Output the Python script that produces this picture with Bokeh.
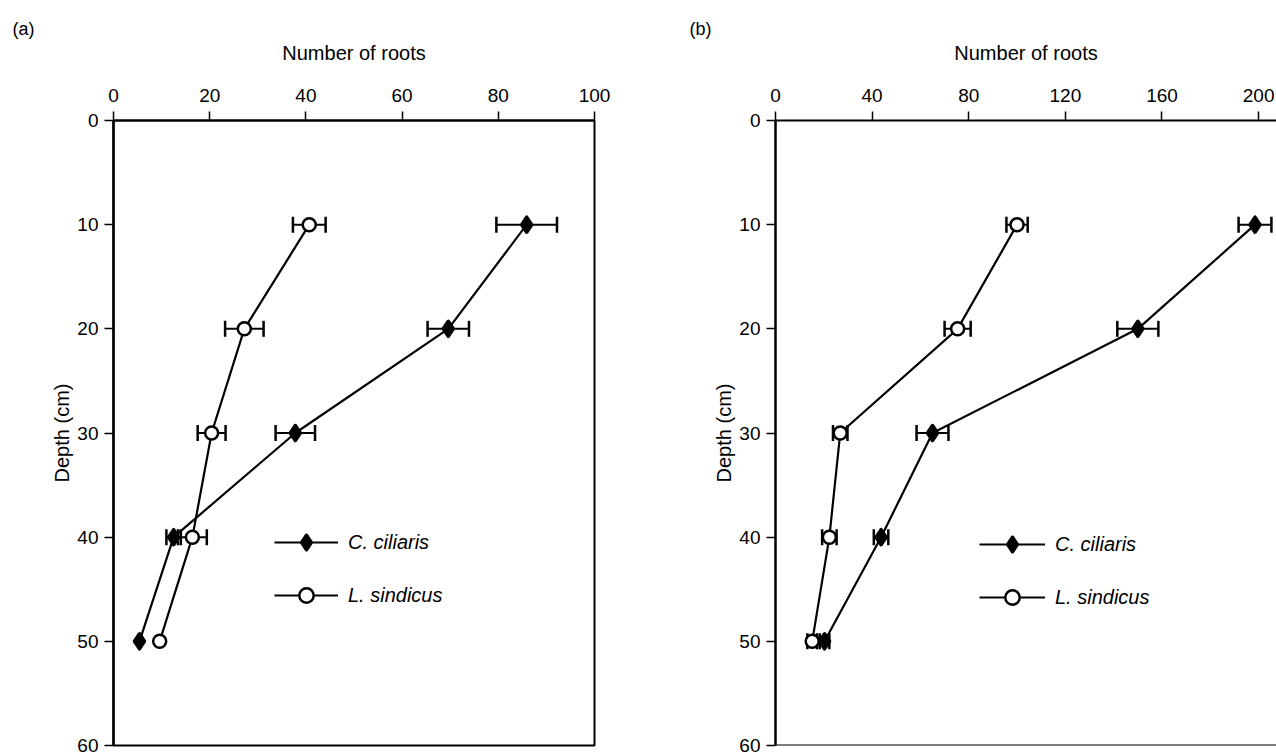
from bokeh.plotting import figure
from bokeh.models import (Range1d, FixedTicker, Whisker, TeeHead, ColumnDataSource,
                          Legend, LegendItem, Span)
from bokeh.layouts import row
from bokeh.embed import file_html
from bokeh.resources import INLINE

# ---------------- data ----------------
depth = [10, 20, 30, 40, 50]

cil_a = [85.9, 69.6, 37.8, 12.5, 5.4]
cil_a_se = [6.3, 4.3, 4.1, 1.5, 0.0]
sin_a = [40.7, 27.2, 20.4, 16.4, 9.6]
sin_a_se = [3.4, 4.0, 2.9, 3.0, 0.0]

cil_b = [198.5, 150.0, 65.0, 43.7, 20.3]
cil_b_se = [6.8, 8.5, 6.6, 3.0, 2.0]
sin_b = [100.0, 75.4, 26.8, 22.3, 15.2]
sin_b_se = [4.4, 5.4, 3.0, 3.0, 2.0]

depth_ticks = [0, 10, 20, 30, 40, 50, 60]
ticks_a = [0, 20, 40, 60, 80, 100]
ticks_b = [0, 40, 80, 120, 160, 200]
names = ["C. ciliaris", "L. sindicus"]
x_title = "Number of roots"
y_title = "Depth (cm)"

FONT = "Liberation Sans"


def whisker_for(p, xs, se):
    keep = [i for i in range(len(xs)) if se[i] > 0]
    src = ColumnDataSource(dict(
        base=[depth[i] for i in keep],
        lo=[xs[i] - se[i] for i in keep],
        hi=[xs[i] + se[i] for i in keep]))
    w = Whisker(source=src, base="base", lower="lo", upper="hi", dimension="width",
                line_color="black", line_width=2,
                lower_head=TeeHead(size=16, line_width=2.5, line_color="black"),
                upper_head=TeeHead(size=16, line_width=2.5, line_color="black"))
    p.add_layout(w)


def panel(tag, tag_offset, xc, sec, xs, ses, x_end, xticks, mbl, mbr, mbt, mbb,
          legend_loc, glyph_w, boxed):
    p = figure(width=638, height=755, output_backend="svg", toolbar_location=None,
               x_range=Range1d(0, x_end), y_range=Range1d(60, 0),
               x_axis_location="above", title=tag,
               min_border_left=mbl, min_border_right=mbr,
               min_border_top=mbt, min_border_bottom=mbb)
    p.background_fill_color = "white"
    p.border_fill_color = "white"
    p.xgrid.visible = False
    p.ygrid.visible = False
    p.title.align = "left"
    p.title.offset = tag_offset
    p.title.text_font = FONT
    p.title.text_font_size = "18px"
    p.title.text_font_style = "normal"
    p.title.text_color = "black"
    p.title.standoff = 0
    if boxed:
        p.outline_line_color = "black"
        p.outline_line_width = 2
        p.outline_line_alpha = 1
    else:
        p.outline_line_color = None
        p.add_layout(Span(location=60, dimension="width", line_color="black",
                          line_width=2))

    xa = p.xaxis[0]
    xa.ticker = FixedTicker(ticks=xticks)
    xa.axis_label = x_title
    ya = p.yaxis[0]
    ya.ticker = FixedTicker(ticks=depth_ticks)
    ya.axis_label = y_title
    for ax in (xa, ya):
        ax.minor_tick_line_color = None
        ax.major_tick_in = 0
        ax.major_tick_out = 9
        ax.major_tick_line_width = 1.5
        ax.major_tick_line_color = "black"
        ax.axis_line_color = "black"
        ax.major_label_text_font = FONT
        ax.major_label_text_font_size = "19px"
        ax.major_label_text_color = "black"
        ax.axis_label_text_font = FONT
        ax.axis_label_text_font_size = "20px"
        ax.axis_label_text_font_style = "normal"
        ax.axis_label_text_color = "black"
    xa.axis_line_width = 2
    ya.axis_line_width = 2.5
    xa.major_label_standoff = 10
    xa.axis_label_standoff = 22
    ya.major_label_standoff = 6
    ya.axis_label_standoff = 1

    whisker_for(p, xc, sec)
    whisker_for(p, xs, ses)

    lc = p.line(xc, depth, line_color="black", line_width=2.2)
    sc = p.scatter(xc, depth, marker="diamond", size=15,
                   fill_color="black", line_color="black", line_width=3.5,
                   line_join="round")
    ls = p.line(xs, depth, line_color="black", line_width=2.2)
    ss = p.scatter(xs, depth, marker="circle", size=13, fill_color="white",
                   line_color="black", line_width=2.5)

    leg = Legend(items=[LegendItem(label=names[0], renderers=[lc, sc]),
                        LegendItem(label=names[1], renderers=[ls, ss])],
                 location=legend_loc, orientation="vertical",
                 glyph_width=glyph_w, glyph_height=36, label_height=36,
                 spacing=17, padding=0, margin=0, label_standoff=10,
                 border_line_color=None, background_fill_alpha=0,
                 label_text_font=FONT, label_text_font_size="20px",
                 label_text_font_style="italic", label_text_color="black")
    p.add_layout(leg)
    return p


pa = panel("(a)", -101, cil_a, cil_a_se, sin_a, sin_a_se, 100, ticks_a,
           113, 44, 119, 10, (161, 132), 64, True)
pb = panel("(b)", -86, cil_b, cil_b_se, sin_b, sin_b_se, 207.4, ticks_b,
           137, 0, 120, 9, (204, 130), 66, False)

layout = row(pa, pb)
open("out.html", "w").write(file_html(layout, INLINE))
